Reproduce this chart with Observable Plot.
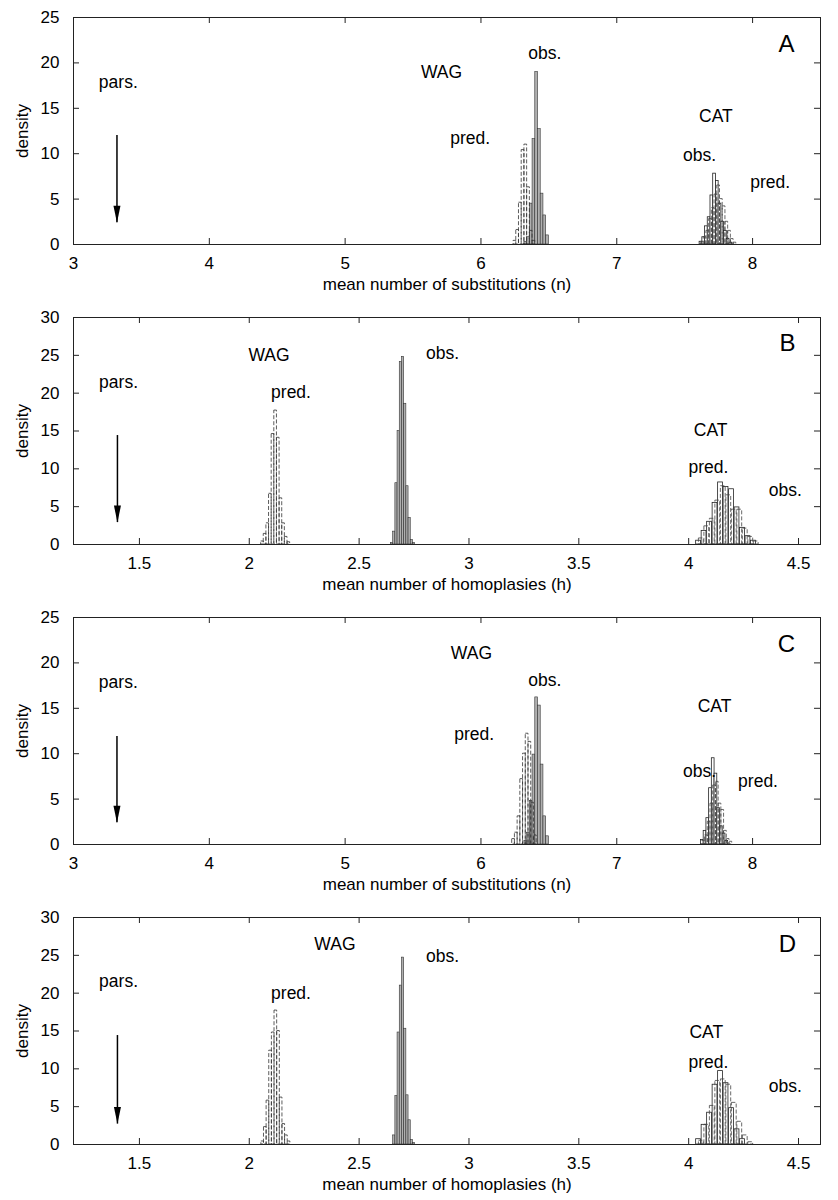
<!DOCTYPE html>
<html><head><meta charset="utf-8">
<script src="https://cdn.jsdelivr.net/npm/d3@7"></script>
<script src="https://cdn.jsdelivr.net/npm/@observablehq/plot@0.6"></script>
<style>
body{margin:0;background:#fff;}
#chart{width:838px;}
#chart svg{display:block;}
</style></head><body><div id="chart"></div>
<script>
// ---------- Panel A : substitutions ----------
const A_wagPred_x = [6.25, 6.27, 6.29, 6.31, 6.33, 6.35, 6.37, 6.39];
const A_wagPred_y = [0.4, 1.6, 4.6, 10.4, 11.0, 6.3, 1.5, 0.4];
const A_wagObs_x = [6.33, 6.35, 6.37, 6.39, 6.41, 6.43, 6.45, 6.47, 6.49];
const A_wagObs_y = [0.3, 0.8, 4.5, 11.6, 19.0, 12.7, 5.6, 3.2, 1.0];
const A_catObs_x = [7.62, 7.64, 7.66, 7.68, 7.70, 7.72, 7.74, 7.76, 7.78, 7.80, 7.82, 7.84];
const A_catObs_y = [0.3, 0.8, 2.0, 3.0, 5.4, 7.8, 7.0, 4.5, 2.5, 1.5, 0.6, 0.2];
const A_catPred_x = [7.63, 7.65, 7.67, 7.69, 7.71, 7.73, 7.75, 7.77, 7.79, 7.81, 7.83, 7.85, 7.87];
const A_catPred_y = [0.3, 0.8, 1.5, 2.8, 4.0, 5.5, 6.5, 5.0, 4.2, 2.5, 1.5, 0.6, 0.2];
const A_labelText = ["pars.", "WAG", "obs.", "pred.", "CAT", "obs.", "pred."];
const A_labelX = [3.33, 5.71, 6.47, 5.92, 7.73, 7.61, 8.13];
const A_labelY = [17.8, 18.9, 21.1, 11.7, 14.1, 9.8, 6.8];
const A_arrow = [3.32, 12.0, 2.4];

// ---------- Panel B : homoplasies ----------
const B_wagPred_x = [2.060, 2.072, 2.084, 2.096, 2.108, 2.120, 2.132, 2.144, 2.156, 2.168, 2.180];
const B_wagPred_y = [0.4, 1.4, 2.8, 6.7, 14.6, 17.7, 14.1, 6.1, 2.8, 1.0, 0.3];
const B_wagObs_x = [2.65, 2.66, 2.67, 2.68, 2.69, 2.70, 2.71, 2.72, 2.73, 2.74, 2.75];
const B_wagObs_y = [0.2, 1.7, 8.1, 15.0, 24.1, 24.8, 18.6, 7.7, 3.5, 0.6, 0.2];
const B_catObs_x = [4.045, 4.070, 4.095, 4.120, 4.145, 4.170, 4.195, 4.220, 4.245, 4.270, 4.295];
const B_catObs_y = [0.5, 1.8, 3.0, 5.5, 8.2, 7.6, 7.3, 4.9, 2.2, 1.1, 0.5];
const B_catPred_x = [4.0575, 4.0825, 4.1075, 4.1325, 4.1575, 4.1825, 4.2075, 4.2325, 4.2575, 4.2825, 4.3075];
const B_catPred_y = [0.8, 2.4, 3.4, 5.8, 7.7, 6.5, 4.6, 4.6, 2.1, 1.0, 0.4];
const B_labelText = ["pars.", "WAG", "pred.", "obs.", "CAT", "pred.", "obs."];
const B_labelX = [1.405, 2.09, 2.19, 2.88, 4.10, 4.09, 4.44];
const B_labelY = [21.4, 25.0, 20.1, 25.2, 15.1, 10.2, 7.1];
const B_arrow = [1.40, 14.4, 2.9];

// ---------- Panel C : substitutions ----------
const C_wagPred_x = [6.24, 6.26, 6.28, 6.30, 6.32, 6.34, 6.36, 6.38, 6.40];
const C_wagPred_y = [0.6, 1.3, 3.1, 7.2, 10.0, 12.2, 11.3, 4.6, 1.0];
const C_wagObs_x = [6.33, 6.35, 6.37, 6.39, 6.41, 6.43, 6.45, 6.47, 6.49];
const C_wagObs_y = [0.4, 1.3, 4.8, 9.9, 16.2, 15.3, 8.8, 3.1, 0.9];
const C_catObs_x = [7.63, 7.65, 7.67, 7.69, 7.71, 7.73, 7.75, 7.77, 7.79, 7.81];
const C_catObs_y = [0.5, 1.5, 2.9, 6.2, 9.5, 7.8, 4.0, 2.0, 1.2, 0.4];
const C_catPred_x = [7.64, 7.66, 7.68, 7.70, 7.72, 7.74, 7.76, 7.78, 7.80, 7.82, 7.84];
const C_catPred_y = [0.4, 1.0, 2.5, 4.5, 6.5, 6.9, 4.5, 3.8, 1.5, 0.6, 0.3];
const C_labelText = ["pars.", "WAG", "obs.", "pred.", "CAT", "obs.", "pred."];
const C_labelX = [3.33, 5.93, 6.47, 5.95, 7.72, 7.61, 8.04];
const C_labelY = [17.8, 21.0, 18.1, 12.1, 15.2, 8.0, 7.0];
const C_arrow = [3.32, 11.9, 2.4];

// ---------- Panel D : homoplasies ----------
const D_wagPred_x = [2.061, 2.073, 2.085, 2.097, 2.109, 2.121, 2.133, 2.145, 2.157, 2.169, 2.181];
const D_wagPred_y = [0.4, 2.3, 5.8, 12.4, 14.8, 17.7, 15.0, 6.2, 2.7, 1.2, 0.4];
const D_wagObs_x = [2.66, 2.67, 2.68, 2.69, 2.70, 2.71, 2.72, 2.73, 2.74, 2.75];
const D_wagObs_y = [1.2, 6.4, 14.8, 21.0, 24.7, 15.3, 6.5, 3.2, 0.6, 0.2];
const D_catObs_x = [4.045, 4.070, 4.095, 4.120, 4.145, 4.170, 4.195, 4.220, 4.245];
const D_catObs_y = [0.7, 2.6, 4.2, 7.9, 9.7, 8.1, 4.8, 2.0, 0.7];
const D_catPred_x = [4.0575, 4.0825, 4.1075, 4.1325, 4.1575, 4.1825, 4.2075, 4.2325, 4.2575, 4.2825];
const D_catPred_y = [0.5, 2.6, 5.1, 8.4, 8.6, 7.9, 5.5, 3.0, 1.2, 0.3];
const D_labelText = ["pars.", "WAG", "obs.", "pred.", "CAT", "pred.", "obs."];
const D_labelX = [1.405, 2.39, 2.88, 2.19, 4.08, 4.09, 4.44];
const D_labelY = [21.6, 26.5, 24.8, 20.0, 14.8, 10.9, 7.7];
const D_arrow = [1.40, 14.4, 2.7];

// ---------- axes ----------
const nTicksX = [3, 4, 5, 6, 7, 8];
const hTicksX = [1.5, 2, 2.5, 3, 3.5, 4, 4.5];
const nTicksY = [0, 5, 10, 15, 20, 25];
const hTicksY = [0, 5, 10, 15, 20, 25, 30];
const nDomainX = [3, 8.5];
const hDomainX = [1.2, 4.6];
const nLabel = "mean number of substitutions (n)";
const hLabel = "mean number of homoplasies (h)";

// ---------- drawing ----------
const FONT = "'Liberation Sans', Arial, Helvetica, sans-serif";
const W = 838, H = 300, MT = 17, MB = 56, ML = 73, MR = 18;
const FH = H - MT - MB, FW = W - ML - MR, TICK = 6;

function bins(xs, ys, w) { return xs.map((c, i) => ({x1: c - w / 2, x2: c + w / 2, y: ys[i]})); }
const arrowHead = { draw(ctx) { ctx.moveTo(0, 0); ctx.lineTo(-3.5, -17); ctx.lineTo(3.5, -17); ctx.closePath(); } };

function panel(p) {
  const labels = p.labelText.map((t, i) => ({t, x: p.labelX[i], y: p.labelY[i]}));
  const arrow = [{x: p.arrow[0], y1: p.arrow[1], y2: p.arrow[2]}];
  return Plot.plot({
    width: W, height: H, marginTop: MT, marginBottom: MB, marginLeft: ML, marginRight: MR,
    style: {fontFamily: FONT, fontSize: "17px", color: "#000", background: "#fff", overflow: "visible"},
    x: {domain: p.xDomain, ticks: p.xTicks, tickSize: 0, tickPadding: 12, label: p.xLabel, labelArrow: "none", labelAnchor: "center", labelOffset: 45, tickFormat: d => String(d)},
    y: {domain: p.yDomain, ticks: p.yTicks, tickSize: 0, tickPadding: 14, label: "density", labelArrow: "none", labelAnchor: "center", labelOffset: 58, tickFormat: d => String(d)},
    marks: [
      Plot.rectY(bins(p.wagObs_x, p.wagObs_y, p.wagW), {x1: "x1", x2: "x2", y: "y", fill: "#b0b0b0", stroke: "#333", strokeWidth: 0.6}),
      Plot.rectY(bins(p.wagPred_x, p.wagPred_y, p.wagPW), {x1: "x1", x2: "x2", y: "y", fill: "none", stroke: "#333", strokeWidth: 0.8, strokeDasharray: "4,2"}),
      Plot.rectY(bins(p.catObs_x, p.catObs_y, p.catW), {x1: "x1", x2: "x2", y: "y", fill: "#fff", stroke: "#222", strokeWidth: 0.8}),
      Plot.rectY(bins(p.catPred_x, p.catPred_y, p.catW), {x1: "x1", x2: "x2", y: "y", fill: "none", stroke: "#444", strokeWidth: 0.8, strokeDasharray: "4,2"}),
      Plot.ruleX(p.xTicks, {insetTop: FH - TICK, stroke: "#222"}),
      Plot.ruleX(p.xTicks, {insetBottom: FH - TICK, stroke: "#222"}),
      Plot.ruleY(p.yTicks, {insetRight: FW - TICK, stroke: "#222"}),
      Plot.ruleY(p.yTicks, {insetLeft: FW - TICK, stroke: "#222"}),
      Plot.frame({stroke: "#222"}),
      Plot.text(labels, {x: "x", y: "y", text: "t", fontSize: 17.5, fill: "#000"}),
      Plot.text([{t: p.letter, x: p.letterX, y: p.letterY}], {x: "x", y: "y", text: "t", fontSize: 24, fill: "#000"}),
      Plot.ruleX(arrow, {x: "x", y1: "y1", y2: "y2", stroke: "#000", strokeWidth: 1.5}),
      Plot.dot(arrow, {x: "x", y: "y2", symbol: arrowHead, fill: "#000", stroke: "none", r: 5})
    ]
  });
}

const panels = [
  {wagPred_x: A_wagPred_x, wagPred_y: A_wagPred_y, wagObs_x: A_wagObs_x, wagObs_y: A_wagObs_y,
   catObs_x: A_catObs_x, catObs_y: A_catObs_y, catPred_x: A_catPred_x, catPred_y: A_catPred_y,
   labelText: A_labelText, labelX: A_labelX, labelY: A_labelY, arrow: A_arrow,
   xDomain: nDomainX, xTicks: nTicksX, yDomain: [0, 25], yTicks: nTicksY, xLabel: nLabel,
   wagW: 0.02, wagPW: 0.02, catW: 0.02, letter: "A", letterX: 8.25, letterY: 22.1},
  {wagPred_x: B_wagPred_x, wagPred_y: B_wagPred_y, wagObs_x: B_wagObs_x, wagObs_y: B_wagObs_y,
   catObs_x: B_catObs_x, catObs_y: B_catObs_y, catPred_x: B_catPred_x, catPred_y: B_catPred_y,
   labelText: B_labelText, labelX: B_labelX, labelY: B_labelY, arrow: B_arrow,
   xDomain: hDomainX, xTicks: hTicksX, yDomain: [0, 30], yTicks: hTicksY, xLabel: hLabel,
   wagW: 0.01, wagPW: 0.012, catW: 0.022, letter: "B", letterX: 4.45, letterY: 26.6},
  {wagPred_x: C_wagPred_x, wagPred_y: C_wagPred_y, wagObs_x: C_wagObs_x, wagObs_y: C_wagObs_y,
   catObs_x: C_catObs_x, catObs_y: C_catObs_y, catPred_x: C_catPred_x, catPred_y: C_catPred_y,
   labelText: C_labelText, labelX: C_labelX, labelY: C_labelY, arrow: C_arrow,
   xDomain: nDomainX, xTicks: nTicksX, yDomain: [0, 25], yTicks: nTicksY, xLabel: nLabel,
   wagW: 0.02, wagPW: 0.02, catW: 0.02, letter: "C", letterX: 8.25, letterY: 22.1},
  {wagPred_x: D_wagPred_x, wagPred_y: D_wagPred_y, wagObs_x: D_wagObs_x, wagObs_y: D_wagObs_y,
   catObs_x: D_catObs_x, catObs_y: D_catObs_y, catPred_x: D_catPred_x, catPred_y: D_catPred_y,
   labelText: D_labelText, labelX: D_labelX, labelY: D_labelY, arrow: D_arrow,
   xDomain: hDomainX, xTicks: hTicksX, yDomain: [0, 30], yTicks: hTicksY, xLabel: hLabel,
   wagW: 0.01, wagPW: 0.012, catW: 0.022, letter: "D", letterX: 4.45, letterY: 26.5}
];

const root = document.getElementById("chart");
for (const p of panels) root.appendChild(panel(p));
</script>
</body></html>
